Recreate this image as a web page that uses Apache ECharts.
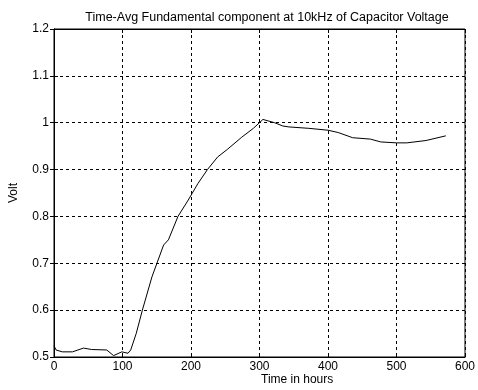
<!DOCTYPE html>
<html lang="en">
<head>
    <meta charset="UTF-8">
    <title>Time-Avg Fundamental component</title>
    <script src="https://cdn.jsdelivr.net/npm/echarts@6/dist/echarts.min.js"></script>
    <style>
        html, body { margin: 0; padding: 0; background: #fff; }
    </style>
</head>
<body>
    <div id="chart" style="width: 478px; height: 390px;"></div>
    <script>
        // data
        var hours = [0, 3, 12, 27, 43, 55, 77, 87, 99, 108, 112, 120, 129, 143, 152, 160, 167, 181, 196, 210,
                     224, 239, 253, 274, 291, 300, 305, 322, 334, 343, 372, 400, 415, 436, 462, 477, 500, 515, 543, 572];
        var volts = [0.524, 0.515, 0.511, 0.511, 0.519, 0.516, 0.515, 0.503, 0.511, 0.508, 0.515, 0.55, 0.60, 0.671,
                     0.707, 0.739, 0.75, 0.80, 0.835, 0.87, 0.90, 0.927, 0.943, 0.969, 0.988, 1.0, 1.007, 1.0,
                     0.993, 0.991, 0.988, 0.984, 0.979, 0.968, 0.965, 0.959, 0.957, 0.957, 0.962, 0.972];

        var chart = echarts.init(document.getElementById('chart'));
        var font = 'Liberation Sans, Arial, sans-serif';

        var points = hours.map(function (h, i) { return [h, volts[i]]; });

        var option = {
            backgroundColor: '#fff',
            animation: false,
            title: {
                text: 'Time-Avg Fundamental component at 10kHz of Capacitor Voltage',
                left: 262,
                top: 6,
                textAlign: 'center',
                textStyle: { fontSize: 12.5, fontWeight: 'normal', color: '#000', fontFamily: font }
            },
            grid: { left: 53, right: 5, top: 29, bottom: 33, show: true, borderColor: '#000', borderWidth: 1 },
            xAxis: [
                {
                    type: 'value', min: 0, max: 600, interval: 100,
                    axisLine: { lineStyle: { color: '#000' } },
                    axisTick: { inside: true, length: 4, lineStyle: { color: '#000' } },
                    axisLabel: { color: '#000', fontSize: 12, fontFamily: font, margin: 4 },
                    splitLine: { show: true, lineStyle: { color: '#000', type: [3, 3], width: 1 } }
                },
                {
                    type: 'value', position: 'top', min: 0, max: 600, interval: 100,
                    axisLine: { lineStyle: { color: '#000' } },
                    axisTick: { inside: true, length: 4, lineStyle: { color: '#000' } },
                    axisLabel: { show: false },
                    splitLine: { show: false }
                }
            ],
            yAxis: [
                {
                    type: 'value', min: 0.5, max: 1.2, interval: 0.1,
                    name: 'Volt', nameLocation: 'middle', nameGap: 34,
                    nameTextStyle: { color: '#000', fontSize: 12, fontFamily: font },
                    axisLine: { lineStyle: { color: '#000' } },
                    axisTick: { inside: true, length: 4, lineStyle: { color: '#000' } },
                    axisLabel: { color: '#000', fontSize: 12, fontFamily: font, margin: 5 },
                    splitLine: { show: true, lineStyle: { color: '#000', type: [3, 3], width: 1 } }
                },
                {
                    type: 'value', position: 'right', min: 0.5, max: 1.2, interval: 0.1,
                    axisLine: { show: true, lineStyle: { color: '#000' } },
                    axisTick: { show: true, inside: true, length: 4, lineStyle: { color: '#000' } },
                    axisLabel: { show: false },
                    splitLine: { show: false }
                }
            ],
            graphic: [
                {
                    type: 'text', left: 261, top: 374,
                    style: { text: 'Time in hours', fill: '#000', fontSize: 12, fontFamily: font }
                }
            ],
            series: [
                {
                    type: 'line', data: points, showSymbol: false, symbol: 'none',
                    lineStyle: { color: '#000', width: 1 }
                }
            ]
        };
        chart.setOption(option);
    </script>
</body>
</html>
